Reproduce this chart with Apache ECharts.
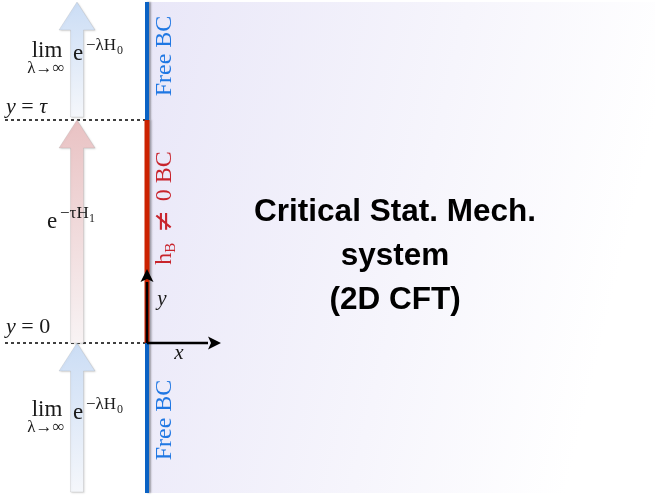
<!DOCTYPE html>
<html><head><meta charset="utf-8">
<script src="https://cdn.jsdelivr.net/npm/echarts@6/dist/echarts.min.js"></script>
<style>html,body{margin:0;padding:0;background:#fff}#c{width:655px;height:498px}</style>
</head><body><div id="c"></div>
<script>
// diagram coordinates: y = 0 and y = tau boundaries (units: tau = 223)
const levels = [0, 223];
const bcSegments = [[-150, 0], [0, 223], [223, 341]];
const bcTypes = ['free', 'hB', 'free'];
const arrowSegments = [[-149, 0], [0, 223], [226, 341]];
const arrowTypes = ['H0', 'H1', 'H0'];
const regionExtent = [[0, 341, 508, -150]];
const axisArrows = [[0, 0, 0, 74], [0, 0, 74, 0]];
const arrowColumnX = -70;
const levelLineStart = -142;

const chart = echarts.init(document.getElementById('c'), null, {renderer: 'canvas'});
const G = echarts.graphic;

const arrowFill = {
  H0: ['#cbddf5', '#f5f7fb'],
  H1: ['#e9c2c3', '#f8f3f4']
};
const bcColor = {free: '#0a62c4', hB: '#cc2200'};

const serif = '"Liberation Serif", "DejaVu Serif", serif';
const sans = '"Liberation Sans", Arial, sans-serif';

function txt(x, y, text, size, color, opts) {
  opts = opts || {};
  return {
    type: 'text', x: x, y: y, rotation: opts.rotation || 0, z: 100,
    style: {
      text: text, fill: color || '#1a1a1a',
      font: (opts.style || '') + ' ' + (opts.weight || '') + ' ' + size + 'px ' + (opts.family || serif),
      align: opts.align || 'left', verticalAlign: 'middle',
      lineHeight: opts.lineHeight, rich: opts.rich
    }
  };
}
const italicRich = (size) => ({i: {fontStyle: 'italic', fontSize: size, fontFamily: serif, fill: '#1a1a1a'},
                               n: {fontSize: size, fontFamily: serif, fill: '#1a1a1a'}});

const option = {
  animation: false,
  grid: {left: 0, right: 0, top: 0, bottom: 0},
  xAxis: {type: 'value', min: -147, max: 508, show: false},
  yAxis: {type: 'value', min: -155, max: 343, show: false},
  series: [
    { // background region (the 2D system)
      type: 'custom', z: 1, data: regionExtent,
      renderItem: (params, api) => {
        const p0 = api.coord([api.value(0), api.value(1)]);
        const p1 = api.coord([api.value(2), api.value(3)]);
        return {type: 'rect', shape: {x: p0[0], y: p0[1], width: p1[0] - p0[0], height: p1[1] - p0[1]},
          style: {fill: new G.LinearGradient(0, 0, 1, 0.25, [
            {offset: 0, color: '#e9e7f8'}, {offset: 0.6, color: '#f6f5fc'}, {offset: 1, color: '#ffffff'}])}};
      }
    },
    { // dashed level lines y=0, y=tau
      type: 'custom', z: 2, data: levels.map(v => [v]),
      renderItem: (params, api) => {
        const a = api.coord([levelLineStart, api.value(0)]);
        const b = api.coord([0, api.value(0)]);
        return {type: 'line', shape: {x1: a[0], y1: a[1], x2: b[0], y2: b[1]},
          style: {stroke: '#000', lineWidth: 1.5, lineDash: [3, 3]}};
      }
    },
    { // Euclidean time evolution arrows
      type: 'custom', z: 3, data: arrowSegments.map((s, i) => [s[0], s[1], i]),
      renderItem: (params, api) => {
        const t = arrowTypes[api.value(2)];
        const a = api.coord([arrowColumnX, api.value(0)]);
        const b = api.coord([arrowColumnX, api.value(1)]);
        const x = a[0], sw = 6.5, hw = 18, hl = 28;
        const pts = [[x - sw, a[1]], [x - sw, b[1] + hl], [x - hw, b[1] + hl], [x, b[1]],
                     [x + hw, b[1] + hl], [x + sw, b[1] + hl], [x + sw, a[1]]];
        return {type: 'polygon', shape: {points: pts},
          style: {fill: new G.LinearGradient(0, 0, 0, 1, [
            {offset: 0, color: arrowFill[t][0]}, {offset: 1, color: arrowFill[t][1]}]),
            stroke: 'rgba(150,150,150,0.35)', lineWidth: 0.6,
            shadowColor: 'rgba(0,0,0,0.15)', shadowBlur: 2, shadowOffsetX: 1, shadowOffsetY: 1}};
      }
    },
    { // boundary conditions
      type: 'custom', z: 4, data: bcSegments.map((s, i) => [s[0], s[1], i]),
      renderItem: (params, api) => {
        const t = bcTypes[api.value(2)];
        const a = api.coord([0, api.value(0)]);
        const b = api.coord([0, api.value(1)]);
        return {type: 'line', shape: {x1: a[0], y1: a[1], x2: b[0], y2: b[1]},
          style: {stroke: bcColor[t], lineWidth: t === 'hB' ? 5 : 4,
            shadowColor: 'rgba(0,0,0,0.35)', shadowBlur: 2, shadowOffsetX: 2}};
      }
    },
    { // coordinate axes arrows
      type: 'custom', z: 5, data: axisArrows,
      renderItem: (params, api) => {
        const a = api.coord([api.value(0), api.value(1)]);
        const b = api.coord([api.value(2), api.value(3)]);
        const dx = b[0] - a[0], dy = b[1] - a[1], L = Math.hypot(dx, dy);
        const ux = dx / L, uy = dy / L, hl = 13, hw = 6.5;
        const bx = b[0] - ux * hl, by = b[1] - uy * hl;
        return {type: 'group', children: [
          {type: 'line', shape: {x1: a[0], y1: a[1], x2: bx, y2: by}, style: {stroke: '#000', lineWidth: 2.6}},
          {type: 'polygon', shape: {points: [[b[0], b[1]], [bx - uy * hw, by + ux * hw], [bx + ux * 3, by + uy * 3], [bx + uy * hw, by - ux * hw]]},
            style: {fill: '#000'}}
        ]};
      }
    }
  ],
  graphic: [
    txt(395, 256, 'Critical Stat. Mech.\nsystem\n(2D CFT)', 31.5, '#000', {family: sans, weight: 'bold', align: 'center', lineHeight: 44}),
    txt(165, 56, 'Free BC', 24, '#1f77e3', {rotation: Math.PI / 2, align: 'center'}),
    txt(165, 420, 'Free BC', 24, '#1f77e3', {rotation: Math.PI / 2, align: 'center'}),
    txt(165, 208, '{h|h}{b|B}{h| }{ne|≠}{h| 0 BC}', 24, '#c8242c', {rotation: Math.PI / 2, align: 'center',
      rich: {h: {fontSize: 24, fontFamily: serif, fill: '#c8242c'},
             ne: {fontSize: 27, fontFamily: '"DejaVu Serif", serif', fill: '#c8242c', padding: [0, 3, 0, 3]},
             b: {fontSize: 15, fontFamily: serif, fill: '#c8242c', verticalAlign: 'bottom', padding: [0, 1, 0, 0]}}}),
    txt(162, 299, '{i|y}', 21, '#1a1a1a', {align: 'center', rich: italicRich(21)}),
    txt(179, 353, '{i|x}', 21, '#1a1a1a', {align: 'center', rich: italicRich(21)}),
    txt(6, 107, '{i|y}{n| = }{i|τ}', 22, '#1a1a1a', {rich: italicRich(22)}),
    txt(6, 327, '{i|y}{n| = 0}', 22, '#1a1a1a', {rich: italicRich(22)}),
    // top lim e^{-lambda H0}
    txt(47, 51, 'lim', 23, '#1a1a1a', {align: 'center'}),
    txt(46, 69, 'λ→∞', 17, '#1a1a1a', {align: 'center'}),
    txt(73, 54, 'e', 23, '#1a1a1a'),
    txt(86, 46, '−λH', 17, '#1a1a1a'),
    txt(117, 51, '0', 12, '#1a1a1a'),
    // middle e^{-tau H1}
    txt(47, 222, 'e', 23, '#1a1a1a'),
    txt(60, 214, '−τH', 17, '#1a1a1a'),
    txt(89, 219, '1', 12, '#1a1a1a'),
    // bottom lim e^{-lambda H0}
    txt(47, 410, 'lim', 23, '#1a1a1a', {align: 'center'}),
    txt(46, 428, 'λ→∞', 17, '#1a1a1a', {align: 'center'}),
    txt(73, 413, 'e', 23, '#1a1a1a'),
    txt(86, 405, '−λH', 17, '#1a1a1a'),
    txt(117, 410, '0', 12, '#1a1a1a')
  ]
};
chart.setOption(option);
</script></body></html>
